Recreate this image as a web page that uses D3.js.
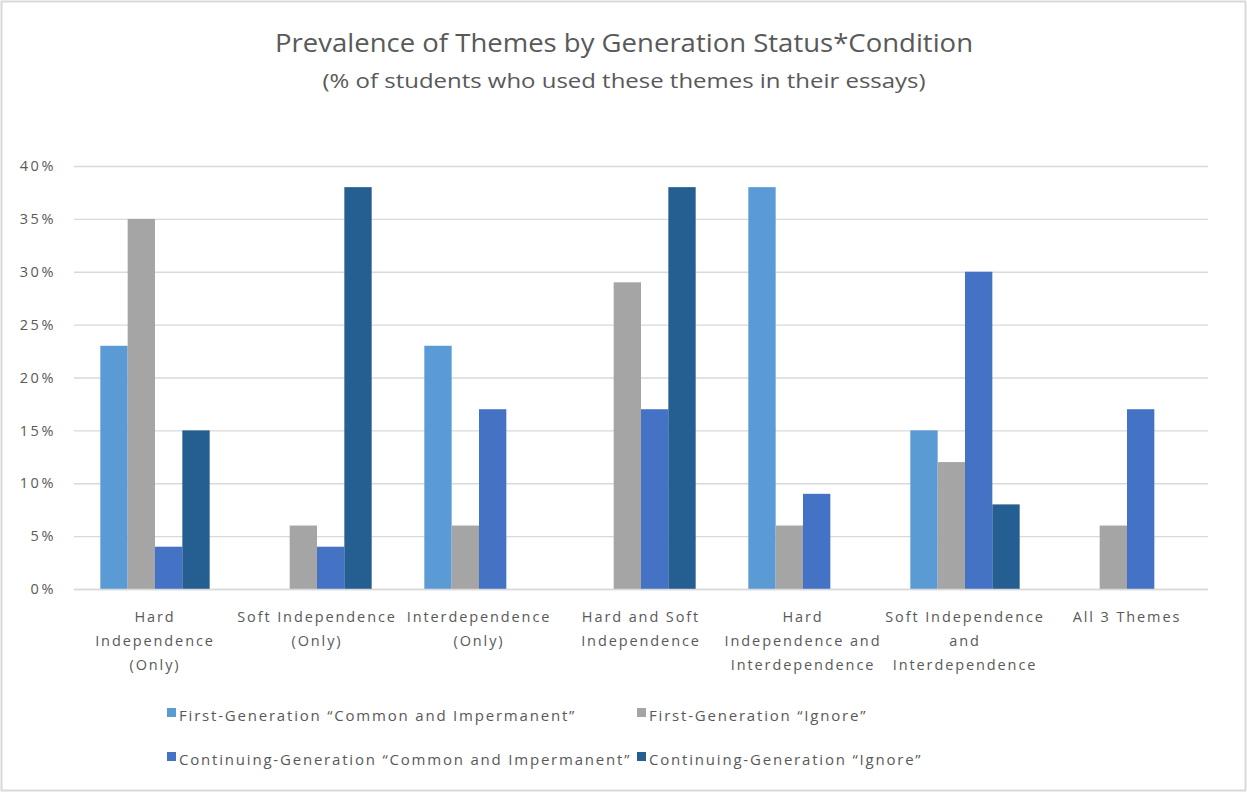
<!DOCTYPE html>
<html>
<head>
<meta charset="utf-8">
<script src="https://cdn.jsdelivr.net/npm/d3@7"></script>
<style>
  html, body { margin: 0; padding: 0; background: #fff; }
  svg { display: block; }
</style>
</head>
<body>
<svg id="chart" width="1247" height="792"></svg>
<script>
// Theme categories, each split into the lines shown under the axis
const categories = [
  ["Hard", "Independence", "(Only)"],
  ["Soft Independence", "(Only)"],
  ["Interdependence", "(Only)"],
  ["Hard and Soft", "Independence"],
  ["Hard", "Independence and", "Interdependence"],
  ["Soft Independence", "and", "Interdependence"],
  ["All 3 Themes"]
];

const seriesNames = [
  "First-Generation \u201cCommon and Impermanent\u201d",
  "First-Generation \u201cIgnore\u201d",
  "Continuing-Generation \u201cCommon and Impermanent\u201d",
  "Continuing-Generation \u201cIgnore\u201d"
];

// Percent of students per theme, one array per series
const firstGenCommon = [23, 0, 23, 0, 38, 15, 0];
const firstGenIgnore = [35, 6, 6, 29, 6, 12, 6];
const contGenCommon  = [4, 4, 17, 17, 9, 30, 17];
const contGenIgnore  = [15, 38, 0, 38, 0, 8, 0];

const yTicks = [0, 5, 10, 15, 20, 25, 30, 35, 40];

const seriesColors = ["#5B9BD5", "#A5A5A5", "#4472C4", "#255E91"];
const seriesValues = [firstGenCommon, firstGenIgnore, contGenCommon, contGenIgnore];

const svg = d3.select("#chart");
const W = 1247, H = 792;
const textColor = "#595959";
const font = "'Open Sans', sans-serif";

// outer frame
svg.append("rect")
  .attr("x", 1.5).attr("y", 1.5)
  .attr("width", W - 3).attr("height", H - 3)
  .attr("fill", "#fff").attr("stroke", "#d9d9d9").attr("stroke-width", 2);

// titles
svg.append("text")
  .attr("x", 624).attr("y", 52)
  .attr("text-anchor", "middle")
  .attr("font-family", font).attr("font-size", 26)
  .attr("fill", textColor)
  .attr("textLength", 698).attr("lengthAdjust", "spacingAndGlyphs")
  .text("Prevalence of Themes by Generation Status*Condition");

svg.append("text")
  .attr("x", 624).attr("y", 88)
  .attr("text-anchor", "middle")
  .attr("font-family", font).attr("font-size", 20)
  .attr("fill", textColor)
  .attr("textLength", 603).attr("lengthAdjust", "spacingAndGlyphs")
  .text("(% of students who used these themes in their essays)");

// scales
const plot = { left: 74, right: 1208, top: 166, bottom: 589 };

const x0 = d3.scaleBand()
  .domain(d3.range(categories.length))
  .range([plot.left, plot.right])
  .paddingInner(0.325)
  .paddingOuter(0.1625);

const x1 = d3.scaleBand()
  .domain(d3.range(seriesNames.length))
  .range([0, x0.bandwidth()]);

const y = d3.scaleLinear().domain([0, 40]).range([plot.bottom, plot.top]);

// gridlines and value axis
const yAxis = d3.axisLeft(y)
  .tickValues(yTicks)
  .tickSize(-(plot.right - plot.left))
  .tickPadding(18)
  .tickFormat(d => d + "%");

const gy = svg.append("g")
  .attr("transform", `translate(${plot.left},0)`)
  .call(yAxis);
gy.select(".domain").remove();
gy.selectAll(".tick line").attr("stroke", "#d9d9d9").attr("stroke-width", 1.3);
gy.selectAll(".tick text")
  .attr("fill", textColor)
  .attr("font-family", font)
  .attr("font-size", 14.5)
  .attr("letter-spacing", 2.6);

// bars
const groups = svg.append("g").selectAll("g")
  .data(categories.map((c, i) => i))
  .join("g")
  .attr("transform", i => `translate(${x0(i)},0)`);

groups.selectAll("rect")
  .data(i => seriesValues.map((vals, s) => ({ s, v: vals[i] })))
  .join("rect")
  .attr("x", d => x1(d.s))
  .attr("width", x1.bandwidth())
  .attr("y", d => y(d.v))
  .attr("height", d => y(0) - y(d.v))
  .attr("fill", d => seriesColors[d.s]);

// category axis
const xAxis = d3.axisBottom(x0).tickSize(0).tickFormat(() => "");
const gx = svg.append("g")
  .attr("transform", `translate(0,${plot.bottom})`)
  .call(xAxis);
gx.select(".domain").attr("stroke", "#d9d9d9").attr("stroke-width", 1.3)
  .attr("d", `M${plot.left},0.5H${plot.right}`);

const labels = svg.append("g");
categories.forEach((lines, i) => {
  const cx = x0(i) + x0.bandwidth() / 2;
  const t = labels.append("text")
    .attr("x", cx)
    .attr("y", 622)
    .attr("text-anchor", "middle")
    .attr("font-family", font)
    .attr("font-size", 14.5)
    .attr("letter-spacing", 1.9)
    .attr("fill", textColor);
  lines.forEach((ln, k) => {
    t.append("tspan")
      .attr("x", cx)
      .attr("dy", k === 0 ? 0 : 24)
      .text(ln);
  });
});

// legend
const legendPos = [
  { x: 167, y: 716 }, { x: 637, y: 716 },
  { x: 167, y: 760 }, { x: 637, y: 760 }
];
const legend = svg.append("g");
seriesNames.forEach((name, s) => {
  const p = legendPos[s];
  legend.append("rect")
    .attr("x", p.x).attr("y", p.y - 8)
    .attr("width", 9).attr("height", 9)
    .attr("fill", seriesColors[s]);
  legend.append("text")
    .attr("x", p.x + 12).attr("y", p.y + 5)
    .attr("font-family", font)
    .attr("font-size", 15)
    .attr("letter-spacing", 1.8)
    .attr("fill", textColor)
    .text(name);
});
</script>
</body>
</html>
